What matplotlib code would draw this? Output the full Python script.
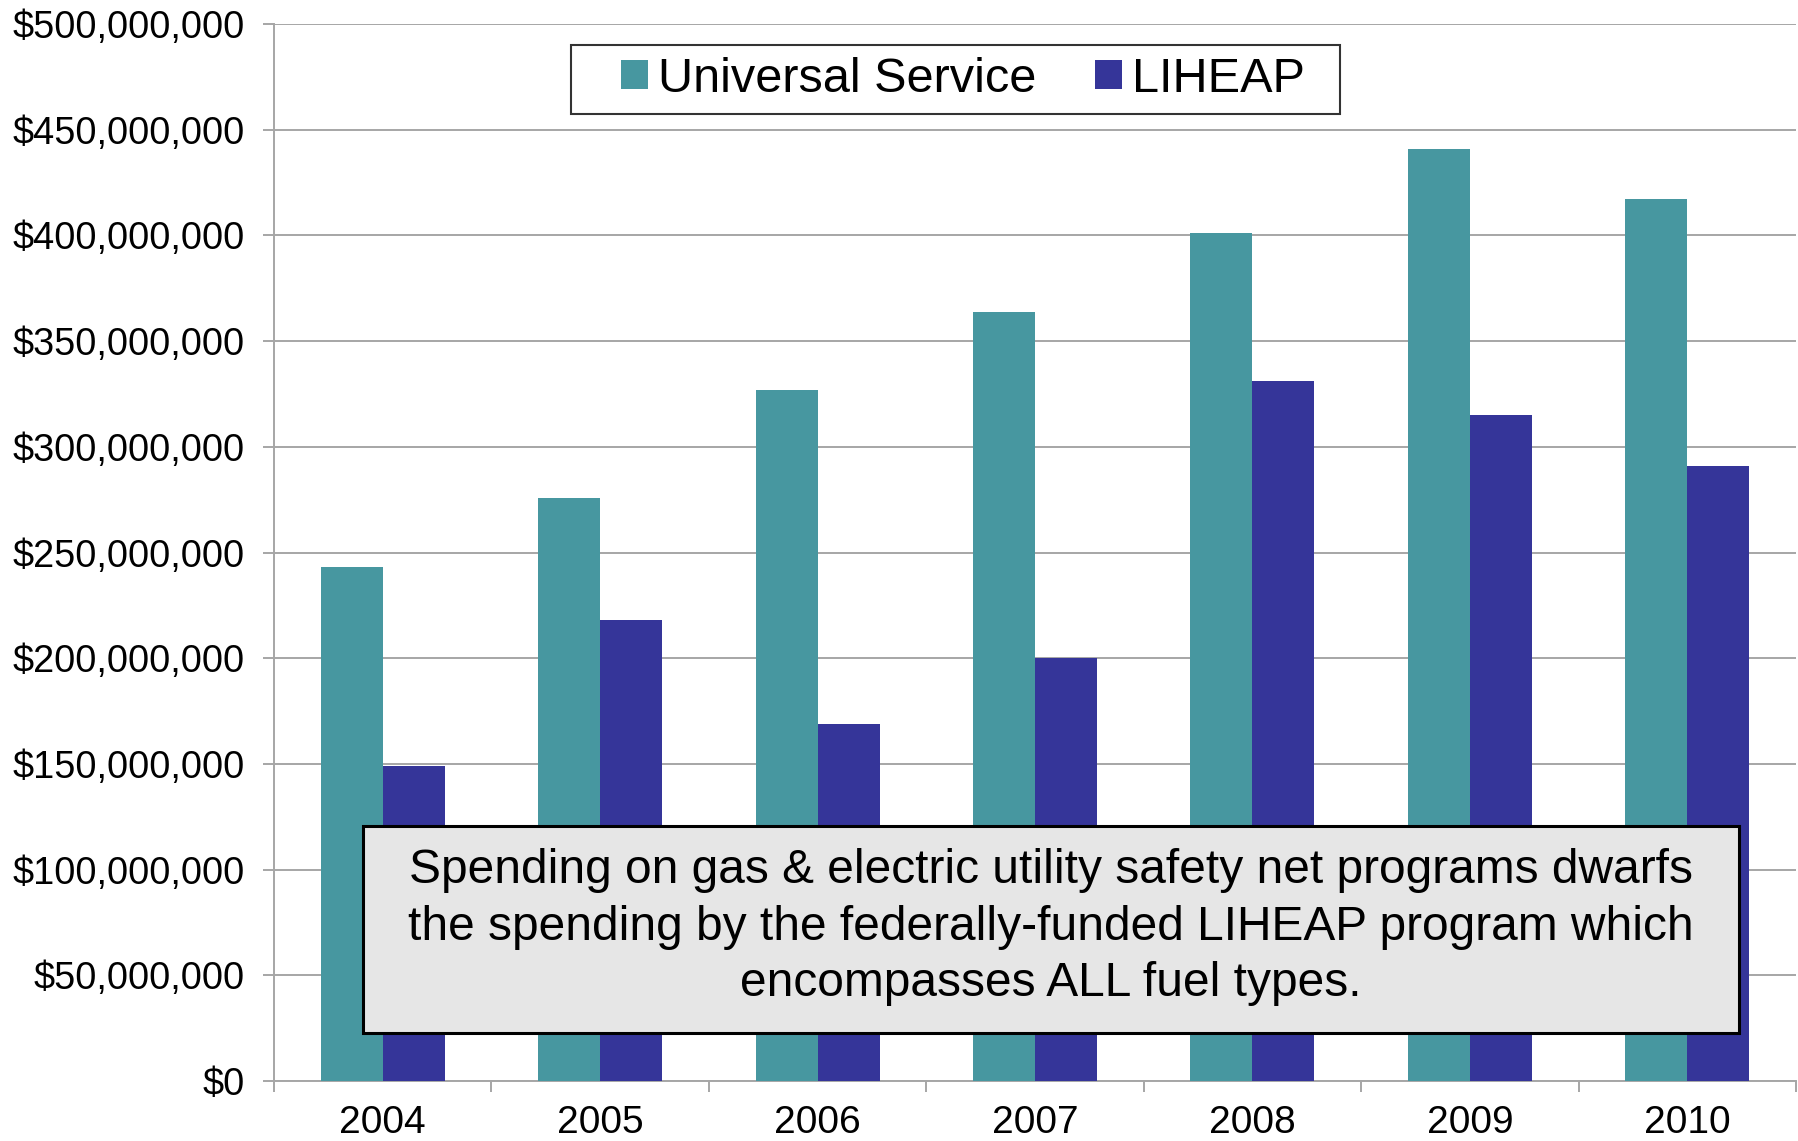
import matplotlib
matplotlib.use("Agg")
import matplotlib.pyplot as plt
from matplotlib.ticker import FuncFormatter, FixedLocator
import numpy as np

years = ["2004", "2005", "2006", "2007", "2008", "2009", "2010"]
universal_service = [243e6, 276e6, 327e6, 364e6, 401e6, 441e6, 417e6]
liheap = [149e6, 218e6, 169e6, 200e6, 331e6, 315e6, 291e6]
series_names = ["Universal Service", "LIHEAP"]
note = ("Spending on gas & electric utility safety net programs dwarfs\n"
        "the spending by the federally-funded LIHEAP program which\n"
        "encompasses ALL fuel types.")

teal = "#4797A0"
navy = "#353599"
grid_c = "#A6A6A6"

plt.rcParams['font.family'] = ['Liberation Sans', 'DejaVu Sans']

W, H = 1798, 1141
fig = plt.figure(figsize=(W / 100, H / 100), dpi=100)
ax = fig.add_axes([274 / W, 1 - 1081 / H, (1796 - 274) / W, (1081 - 24) / H])

x = np.arange(len(years))
bw = 0.285
ax.bar(x - bw / 2, universal_service, width=bw, color=teal, label=series_names[0], zorder=3)
ax.bar(x + bw / 2, liheap, width=bw, color=navy, label=series_names[1], zorder=3)

ax.set_xlim(-0.5, len(years) - 0.5)
ax.set_ylim(0, 500e6)
ax.set_yticks(np.arange(0, 500e6 + 1, 50e6))
ax.yaxis.set_major_formatter(FuncFormatter(lambda v, p: "${:,.0f}".format(v)))
ax.set_xticks(x)
ax.set_xticklabels(years)
ax.xaxis.set_minor_locator(FixedLocator(np.arange(-0.5, len(years), 1.0)))

ax.tick_params(axis='y', which='major', length=8, width=1.4, color=grid_c, pad=13, labelsize=27.3)
ax.tick_params(axis='x', which='major', length=0, pad=17, labelsize=28)
ax.tick_params(axis='x', which='minor', length=8, width=1.4, color=grid_c)

ax.grid(axis='y', color=grid_c, linewidth=1.4, zorder=0)
ax.set_axisbelow(True)
for s in ['top', 'right']:
    ax.spines[s].set_visible(False)
for s in ['left', 'bottom']:
    ax.spines[s].set_color(grid_c)
    ax.spines[s].set_linewidth(1.4)

# legend frame drawn manually
fig.patches.append(plt.Rectangle((571 / W, 1 - 114 / H), (1340 - 571) / W, (114 - 45) / H,
                                 transform=fig.transFigure, facecolor='white',
                                 edgecolor='#333333', linewidth=1.5, zorder=4))
leg = fig.legend(loc='center', bbox_to_anchor=(963 / W, 1 - 79 / H), ncol=2,
                 fontsize=35, frameon=False, handlelength=0.55,
                 handleheight=0.55, handletextpad=0.22, columnspacing=1.2,
                 borderpad=0.3, borderaxespad=0)
leg.set_zorder(5)

# annotation box
fig.patches.append(plt.Rectangle((363 / W, 1 - 1033 / H), (1739 - 363) / W, (1033 - 826) / H,
                                 transform=fig.transFigure, facecolor='#E6E6E6',
                                 edgecolor='black', linewidth=2.2, zorder=5))
fig.text(1051 / W, 1 - 927 / H, note, ha='center', va='center', fontsize=34.5,
         linespacing=1.32, zorder=6)

fig.savefig("out.png", dpi=100)
